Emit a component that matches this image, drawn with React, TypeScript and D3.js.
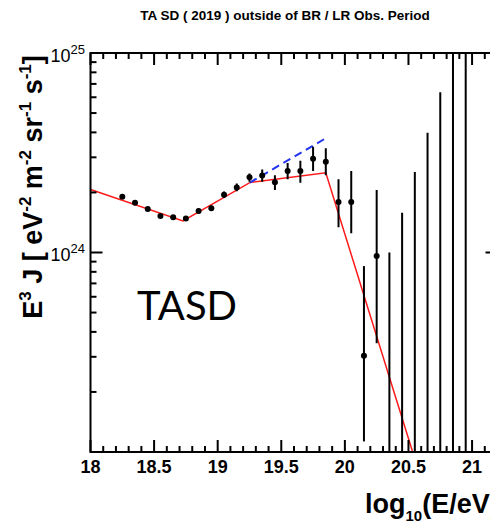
import React from "react";
import * as d3 from "d3";

// ---- data ----
const binLogE = [
  18.25, 18.35, 18.45, 18.55, 18.65, 18.75, 18.85, 18.95, 19.05, 19.15,
  19.25, 19.35, 19.45, 19.55, 19.65, 19.75, 19.85, 19.95, 20.05, 20.15,
  20.25, 20.35, 20.45, 20.55, 20.65, 20.75, 20.85, 20.95,
];
const fluxE3J: (number | null)[] = [
  1.905e24, 1.778e24, 1.65e24, 1.524e24, 1.5e24, 1.48e24, 1.615e24, 1.667e24, 1.95e24, 2.12e24,
  2.38e24, 2.43e24, 2.25e24, 2.56e24, 2.56e24, 2.95e24, 2.85e24, 1.79e24, 1.79e24, 3.04e23,
  9.6e23, null, null, null, null, null, null, null,
];
const errUpper = [
  1.95e24, 1.82e24, 1.69e24, 1.56e24, 1.54e24, 1.52e24, 1.66e24, 1.72e24, 2.02e24, 2.22e24,
  2.49e24, 2.61e24, 2.44e24, 2.81e24, 2.88e24, 3.39e24, 3.33e24, 2.33e24, 2.56e24, 8.55e23,
  2.06e24, 1.0e24, 1.58e24, 2.53e24, 3.98e24, 6.35e24, 1.2e25, 1.5e25,
];
const errLower = [
  1.86e24, 1.74e24, 1.61e24, 1.49e24, 1.46e24, 1.44e24, 1.57e24, 1.62e24, 1.88e24, 2.03e24,
  2.26e24, 2.26e24, 2.06e24, 2.33e24, 2.24e24, 2.56e24, 2.44e24, 1.34e24, 1.25e24, 1.13e23,
  3.51e23, 1e22, 1e22, 1e22, 1e22, 1e22, 1e22, 1e22,
];
// broken power-law fit (red)
const fitLogE = [18.0, 18.727, 19.252, 19.85, 20.533];
const fitValue = [2.07e24, 1.44e24, 2.24e24, 2.51e24, 1.0e23];
// extrapolation without suppression (blue dashed)
const extLogE = [19.252, 19.85];
const extValue = [2.24e24, 3.74e24];

const xTickLabels = ["18", "18.5", "19", "19.5", "20", "20.5", "21"];
const yTickLabels = [
  { value: 1e24, base: "10", exp: "24" },
  { value: 1e25, base: "10", exp: "25" },
];

const titleText = "TA SD ( 2019 ) outside of BR / LR Obs. Period";
const FONT = "'Liberation Sans', Arial, Helvetica, sans-serif";

export default function App() {
  const W = 490;
  const H = 524;
  const x = d3.scaleLinear().domain([18, 21.2]).range([90.5, 497.5]);
  const y = d3.scaleLog().domain([1e23, 1e25]).range([452, 53]);
  const [x0, x1] = x.range();
  const [yB, yT] = y.range();

  const xMinor = d3.range(180, 213).map((v) => v / 10);
  const xMajor = xTickLabels.map((t) => +t);
  const yMinor: number[] = [];
  [1e23, 1e24].forEach((dec) => {
    for (let k = 1; k <= 9; k++) yMinor.push(dec * k);
  });
  yMinor.push(1e25);

  const line = d3
    .line<[number, number]>()
    .x((d) => x(d[0]))
    .y((d) => y(d[1]));
  const fitPts = fitLogE.map((e, i) => [e, fitValue[i]] as [number, number]);
  const extPts = extLogE.map((e, i) => [e, extValue[i]] as [number, number]);

  const clamp = (v: number) => Math.max(yT - 20, Math.min(yB + 20, v));

  return (
    <div style={{ position: "absolute", left: 0, top: 0 }}>
      <svg width={W} height={H} style={{ display: "block", background: "#fff" }} fontFamily={FONT}>
        <defs>
          <clipPath id="plot">
            <rect x={x0} y={yT} width={x1 - x0} height={yB - yT} />
          </clipPath>
        </defs>
        <rect width={W} height={H} fill="#fff" />

        {/* title */}
        <text x={285} y={20} textAnchor="middle" fontSize={13.5} fontWeight="bold">
          {titleText}
        </text>

        {/* data & fit */}
        <g clipPath="url(#plot)">
          <path d={line(fitPts) || ""} fill="none" stroke="#ff1a1a" strokeWidth={1.5} />
          <path
            d={line(extPts) || ""}
            fill="none"
            stroke="#2233ee"
            strokeWidth={2}
            strokeDasharray="8,5"
          />
          {binLogE.map((e, i) => (
            <line
              key={"eb" + i}
              x1={x(e)}
              x2={x(e)}
              y1={clamp(y(errLower[i]))}
              y2={clamp(y(errUpper[i]))}
              stroke="#000"
              strokeWidth={2}
            />
          ))}
          {binLogE.map((e, i) =>
            fluxE3J[i] == null ? null : (
              <circle key={"pt" + i} cx={x(e)} cy={y(fluxE3J[i] as number)} r={3} fill="#000" />
            )
          )}
        </g>

        {/* frame */}
        <rect x={x0} y={yT} width={x1 - x0} height={yB - yT} fill="none" stroke="#000" strokeWidth={2} />

        {/* x ticks */}
        {xMinor.map((v, i) => {
          const major = xMajor.some((m) => Math.abs(m - v) < 1e-6);
          const len = major ? 12 : 6;
          return (
            <g key={"xt" + i}>
              <line x1={x(v)} x2={x(v)} y1={yB} y2={yB - len} stroke="#000" strokeWidth={2} />
              <line x1={x(v)} x2={x(v)} y1={yT} y2={yT + len} stroke="#000" strokeWidth={2} />
            </g>
          );
        })}
        {xTickLabels.map((t) => (
          <text key={"xl" + t} x={x(+t)} y={473} textAnchor="middle" fontSize={18} fontWeight="bold">
            {t}
          </text>
        ))}

        {/* y ticks */}
        {yMinor.map((v, i) => {
          const major = Math.abs(Math.log10(v) - Math.round(Math.log10(v))) < 1e-6;
          const len = major ? 12 : 6;
          return (
            <g key={"yt" + i}>
              <line x1={x0} x2={x0 + len} y1={y(v)} y2={y(v)} stroke="#000" strokeWidth={2} />
              <line x1={x1} x2={x1 - len} y1={y(v)} y2={y(v)} stroke="#000" strokeWidth={2} />
            </g>
          );
        })}
        {yTickLabels.map((t) => (
          <text key={"yl" + t.exp} x={85} y={y(t.value) + 8.5} textAnchor="end" fontSize={18}>
            {t.base}
            <tspan dy={-8} fontSize={13}>
              {t.exp}
            </tspan>
          </text>
        ))}

        {/* y title */}
        <text
          transform={`translate(42,${(321 + 53) / 2}) rotate(-90)`}
          textAnchor="middle"
          fontSize={27}
          fontWeight="bold"
        >
          E<tspan dy={-11} fontSize={17}>3</tspan>
          <tspan dy={11}> J [ eV</tspan>
          <tspan dy={-11} fontSize={17}>-2</tspan>
          <tspan dy={11}> m</tspan>
          <tspan dy={-11} fontSize={17}>-2</tspan>
          <tspan dy={11}> sr</tspan>
          <tspan dy={-11} fontSize={17}>-1</tspan>
          <tspan dy={11}> s</tspan>
          <tspan dy={-11} fontSize={17}>-1</tspan>
          <tspan dy={11}>]</tspan>
        </text>

        {/* x title */}
        <text x={365} y={513} fontSize={27} fontWeight="bold">
          log
          <tspan dy={8} fontSize={15}>10</tspan>
          <tspan dy={-8}>(E/eV)</tspan>
        </text>

        {/* annotation */}
        <text x={137} y={320} fontSize={40} fontFamily="Lato, 'Open Sans', sans-serif">
          TASD
        </text>
      </svg>
    </div>
  );
}
